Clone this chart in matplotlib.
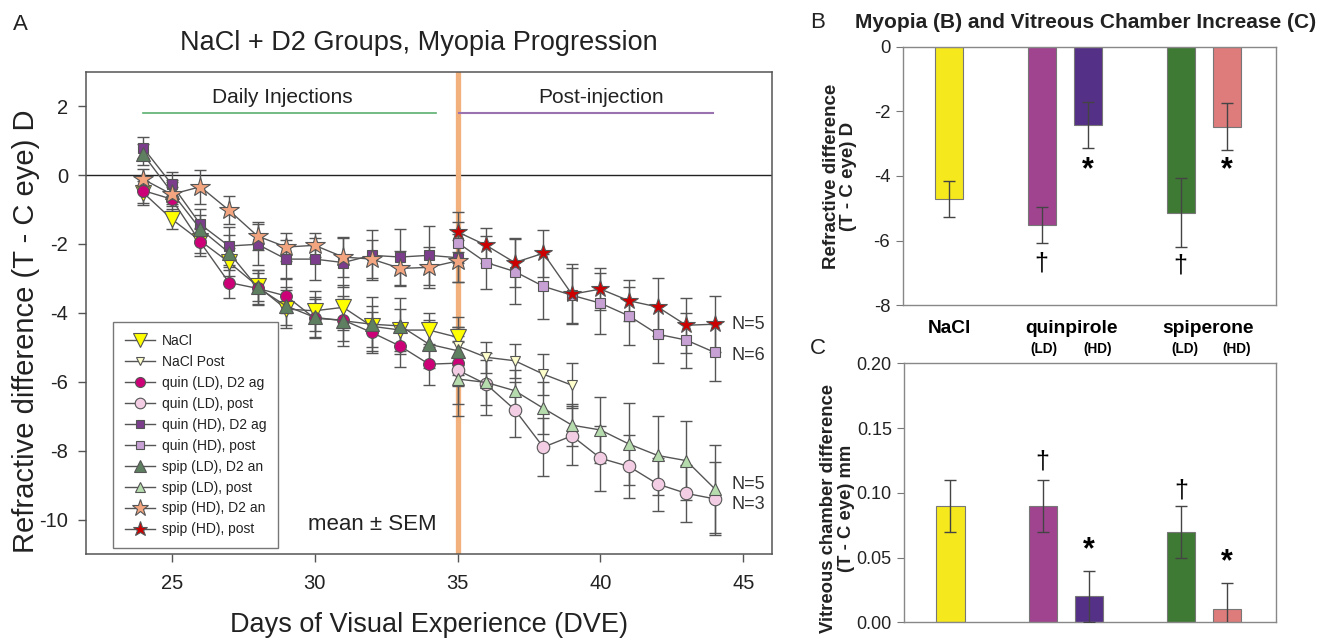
import matplotlib
matplotlib.use("Agg")
import matplotlib.pyplot as plt
import matplotlib.transforms as mtrans

plt.rcParams['font.family'] = ['Liberation Sans', 'DejaVu Sans']
plt.rcParams['axes.unicode_minus'] = False

# ---------------- Data: panel A ----------------
days_pre = [24, 25, 26, 27, 28, 29, 30, 31, 32, 33, 34, 35]
days_post = [35, 36, 37, 38, 39, 40, 41, 42, 43, 44]
days_nacl_post = [35, 36, 37, 38, 39]

nacl = [-0.51, -1.28, -1.91, -2.53, -3.22, -3.89, -3.94, -3.84, -4.39, -4.50, -4.50, -4.71]
nacl_err = [0.35, 0.3, 0.35, 0.4, 0.45, 0.55, 0.58, 0.65, 0.6, 0.6, 0.5, 0.58]
nacl_post = [-4.96, -5.29, -5.39, -5.78, -6.10]
nacl_post_err = [0.55, 0.45, 0.5, 0.6, 0.65]

quin_ld = [-0.45, -0.70, -1.95, -3.12, -3.29, -3.51, -4.16, -4.21, -4.57, -4.97, -5.49, -5.46]
quin_ld_err = [0.35, 0.35, 0.4, 0.45, 0.45, 0.5, 0.55, 0.6, 0.6, 0.6, 0.6, 0.65]
quin_ld_post = [-5.66, -6.07, -6.81, -7.90, -7.57, -8.22, -8.46, -8.97, -9.24, -9.40]
quin_ld_post_err = [1.0, 0.9, 0.8, 0.85, 0.86, 0.94, 0.92, 0.77, 0.82, 1.06]

quin_hd = [0.79, -0.27, -1.43, -2.06, -2.01, -2.44, -2.44, -2.54, -2.33, -2.38, -2.33, -2.40]
quin_hd_err = [0.3, 0.35, 0.45, 0.55, 0.6, 0.55, 0.6, 0.7, 0.73, 0.8, 0.85, 0.7]
quin_hd_post = [-1.96, -2.54, -2.80, -3.23, -3.49, -3.72, -4.09, -4.62, -4.79, -5.15]
quin_hd_post_err = [0.6, 0.77, 0.95, 0.95, 0.8, 0.88, 0.84, 0.85, 0.8, 0.82]

spip_ld = [0.60, -0.50, -1.57, -2.25, -3.26, -3.80, -4.13, -4.23, -4.33, -4.38, -4.91, -5.10]
spip_ld_err = [0.3, 0.35, 0.4, 0.5, 0.5, 0.55, 0.6, 0.73, 0.78, 0.8, 0.7, 0.7]
spip_ld_post = [-5.92, -6.02, -6.26, -6.77, -7.26, -7.40, -7.81, -8.14, -8.29, -9.11]
spip_ld_post_err = [1.07, 0.65, 0.6, 0.75, 0.6, 0.95, 1.2, 1.14, 1.14, 1.28]

spip_hd = [-0.12, -0.56, -0.34, -1.02, -1.77, -2.09, -2.04, -2.38, -2.44, -2.71, -2.68, -2.49]
spip_hd_err = [0.3, 0.35, 0.5, 0.4, 0.4, 0.4, 0.35, 0.57, 0.55, 0.5, 0.6, 0.6]
spip_hd_post = [-1.65, -2.04, -2.54, -2.27, -3.46, -3.31, -3.65, -3.83, -4.36, -4.33]
spip_hd_post_err = [0.58, 0.5, 0.7, 0.68, 0.87, 0.6, 0.6, 0.83, 0.8, 0.82]

legend_labels = ["NaCl", "NaCl Post", "quin (LD), D2 ag", "quin (LD), post",
                 "quin (HD), D2 ag", "quin (HD), post", "spip (LD), D2 an",
                 "spip (LD), post", "spip (HD), D2 an", "spip (HD), post"]

n_labels = ["N=5", "N=6", "N=5", "N=3"]
n_label_y = [-4.33, -5.25, -8.97, -9.55]

# ---------------- Data: panels B and C ----------------
groups_pos = [0, 2, 3, 5, 6]
bar_colors = ['#F5E81C', '#A0448F', '#553087', '#3F7A35', '#DE7B7B']
myopia = [-4.71, -5.52, -2.42, -5.13, -2.48]
myopia_err = [0.55, 0.55, 0.72, 1.06, 0.73]
vitreous = [0.09, 0.09, 0.02, 0.07, 0.01]
vitreous_err = [0.02, 0.02, 0.02, 0.02, 0.02]

fig = plt.figure(figsize=(13.25, 6.41), dpi=100)

# ================= Panel A =================
axA = fig.add_axes([86/1325, 87/641, 686/1325, 482.3/641])
axA.set_xlim(22, 46)
axA.set_ylim(-11, 3)

axA.axhline(0, color='#222222', lw=1.0, zorder=1)
axA.axvline(35, color='#F2B07C', lw=3.8, zorder=1.5)

edge = '#555555'
series = [
    (days_pre, nacl, nacl_err, 'v', 11.5, '#FFFF00'),
    (days_nacl_post, nacl_post, nacl_post_err, 'v', 7.5, '#FFFFCC'),
    (days_pre, quin_ld, quin_ld_err, 'o', 8.5, '#CC0077'),
    (days_post, quin_ld_post, quin_ld_post_err, 'o', 9, '#F3CDE3'),
    (days_pre, quin_hd, quin_hd_err, 's', 7.5, '#7B3D8C'),
    (days_post, quin_hd_post, quin_hd_post_err, 's', 7, '#C7A0D4'),
    (days_pre, spip_ld, spip_ld_err, '^', 10.5, '#5E8061'),
    (days_post, spip_ld_post, spip_ld_post_err, '^', 9, '#B6DCAE'),
    (days_pre, spip_hd, spip_hd_err, '*', 15, '#F2A57F'),
    (days_post, spip_hd_post, spip_hd_post_err, '*', 13, '#CC0000'),
]
handles = []
for i, (x, y, e, m, ms, fc) in enumerate(series):
    axA.errorbar(x, y, yerr=e, fmt='none', ecolor='#555555', elinewidth=1.0,
                 capsize=4, capthick=1.0, zorder=2 + i * 0.1)
    h, = axA.plot(x, y, '-', color='#555555', lw=1.0, marker=m, ms=ms,
                  mfc=fc, mec=edge, mew=0.8, zorder=3 + i * 0.1)
    handles.append(h)

# section annotations
axA.plot([24, 34.25], [1.8, 1.8], color='#5BAF6E', lw=1.2)
axA.plot([35.05, 43.95], [1.8, 1.8], color='#9B72B0', lw=1.5)
axA.text(28.88, 2.08, "Daily Injections", fontsize=15, ha='center', va='baseline', color='#222222')
axA.text(40.03, 2.1, "Post-injection", fontsize=15, ha='center', va='baseline', color='#222222')
axA.text(32.0, -10.3, "mean \u00b1 SEM", fontsize=16, ha='center', va='baseline', color='#222222')
for lab, yy in zip(n_labels, n_label_y):
    axA.text(44.58, yy, lab, fontsize=13, ha='left', va='center', color='#333333')

axA.set_xticks([25, 30, 35, 40, 45])
axA.set_yticks([-10, -8, -6, -4, -2, 0, 2])
axA.tick_params(axis='both', direction='out', length=6, width=1, color='#555555',
                labelsize=14.5, labelcolor='#222222')
axA.tick_params(axis='x', pad=8.5)
axA.tick_params(axis='y', pad=7)
for s in axA.spines.values():
    s.set_color('#555555')
    s.set_linewidth(1.1)

axA.set_xlabel("Days of Visual Experience (DVE)", fontsize=19.5, color='#222222', va='baseline')
axA.xaxis.set_label_coords(0.5, -0.161)
axA.set_ylabel("Refractive difference (T - C eye) D", fontsize=21, color='#222222', va='baseline')
axA.yaxis.set_label_coords(-0.076, 0.461)

leg = axA.legend(handles, legend_labels, loc='lower left', bbox_to_anchor=(0.039, 0.012),
                 borderaxespad=0, fontsize=10, frameon=True, fancybox=False,
                 edgecolor='#555555', labelspacing=0.5, handlelength=2.2,
                 handletextpad=0.5, borderpad=0.85, markerscale=0.85)
leg.get_frame().set_linewidth(1.0)
for t in leg.get_texts():
    t.set_color('#222222')

fig.text(13/1325, 1 - 30/641, "A", fontsize=16, ha='left', va='baseline', color='#222222')
fig.text(419/1325, 1 - 50/641, "NaCl + D2 Groups, Myopia Progression", fontsize=19.5,
         ha='center', va='baseline', color='#222222')

# ================= Panel B =================
axB = fig.add_axes([902.7/1325, (641 - 305.3)/641, 373/1325, 258.6/641])
axB.bar(groups_pos, myopia, width=0.61, color=bar_colors, edgecolor='#777777', linewidth=0.8,
        zorder=2)
axB.errorbar(groups_pos, myopia, yerr=myopia_err, fmt='none', ecolor='#444444',
             elinewidth=1.0, capsize=4, capthick=1.0, zorder=3)
axB.set_xlim(-1, 7.05)
axB.set_ylim(-8, 0)
axB.set_yticks([-8, -6, -4, -2, 0])
axB.set_xticks([])
axB.tick_params(axis='y', direction='out', length=5, color='#777777', labelsize=13.3,
                labelcolor='#222222', pad=4)
for s in axB.spines.values():
    s.set_color('#888888')
    s.set_linewidth(1.0)
axB.set_ylabel("Refractive difference\n(T - C eye) D", fontsize=13.5, fontweight='bold',
               color='#222222', linespacing=1.05)
axB.yaxis.set_label_coords(-0.122, 0.5)

axB.text(3, -3.82, "*", fontsize=22, fontweight='bold', ha='center', va='center')
axB.text(6, -3.82, "*", fontsize=22, fontweight='bold', ha='center', va='center')
axB.text(2, -6.7, "\u2020", fontsize=18, ha='center', va='center')
axB.text(5, -6.76, "\u2020", fontsize=18, ha='center', va='center')

trB = mtrans.blended_transform_factory(axB.transData, axB.transAxes)
axB.text(0, -0.088, "NaCl", transform=trB, fontsize=13.8, fontweight='bold', ha='center', va='center')
axB.text(2.64, -0.088, "quinpirole", transform=trB, fontsize=13.8, fontweight='bold', ha='center', va='center')
axB.text(5.59, -0.088, "spiperone", transform=trB, fontsize=13.8, fontweight='bold', ha='center', va='center')
for xx, lab in zip([2.04, 3.2, 5.08, 6.21], ["(LD)", "(HD)", "(LD)", "(HD)"]):
    axB.text(xx, -0.168, lab, transform=trB, fontsize=9.8, fontweight='bold', ha='center', va='center')

fig.text(810/1325, 1 - 22/641, "B", fontsize=16, ha='left', va='center', color='#222222')
fig.text(1085.7/1325, 1 - 22/641, "Myopia (B) and Vitreous Chamber Increase (C)", fontsize=15,
         fontweight='bold', ha='center', va='center', color='#222222')

# ================= Panel C =================
axC = fig.add_axes([904.3/1325, (641 - 622.3)/641, 371.4/1325, 259/641])
axC.bar(groups_pos, vitreous, width=0.61, color=bar_colors, edgecolor='#777777', linewidth=0.8,
        zorder=2)
axC.errorbar(groups_pos, vitreous, yerr=vitreous_err, fmt='none', ecolor='#444444',
             elinewidth=1.0, capsize=4, capthick=1.0, zorder=3)
axC.set_xlim(-1, 7.05)
axC.set_ylim(0, 0.2)
axC.set_yticks([0.0, 0.05, 0.10, 0.15, 0.20])
axC.set_yticklabels(["0.00", "0.05", "0.10", "0.15", "0.20"])
axC.set_xticks([])
axC.tick_params(axis='y', direction='out', length=5, color='#777777', labelsize=13,
                labelcolor='#222222', pad=4)
for s in axC.spines.values():
    s.set_color('#888888')
    s.set_linewidth(1.0)
axC.set_ylabel("Vitreous chamber difference\n(T - C eye) mm", fontsize=13.3, fontweight='bold',
               color='#222222', linespacing=1.05)
axC.yaxis.set_label_coords(-0.133, 0.44)

axC.text(2, 0.124, "\u2020", fontsize=18, ha='center', va='center')
axC.text(3, 0.056, "*", fontsize=22, fontweight='bold', ha='center', va='center')
axC.text(5, 0.102, "\u2020", fontsize=18, ha='center', va='center')
axC.text(6, 0.046, "*", fontsize=22, fontweight='bold', ha='center', va='center')

fig.text(810/1325, 1 - 349/641, "C", fontsize=16, ha='left', va='center', color='#222222')

fig.savefig("out.png", dpi=100)
